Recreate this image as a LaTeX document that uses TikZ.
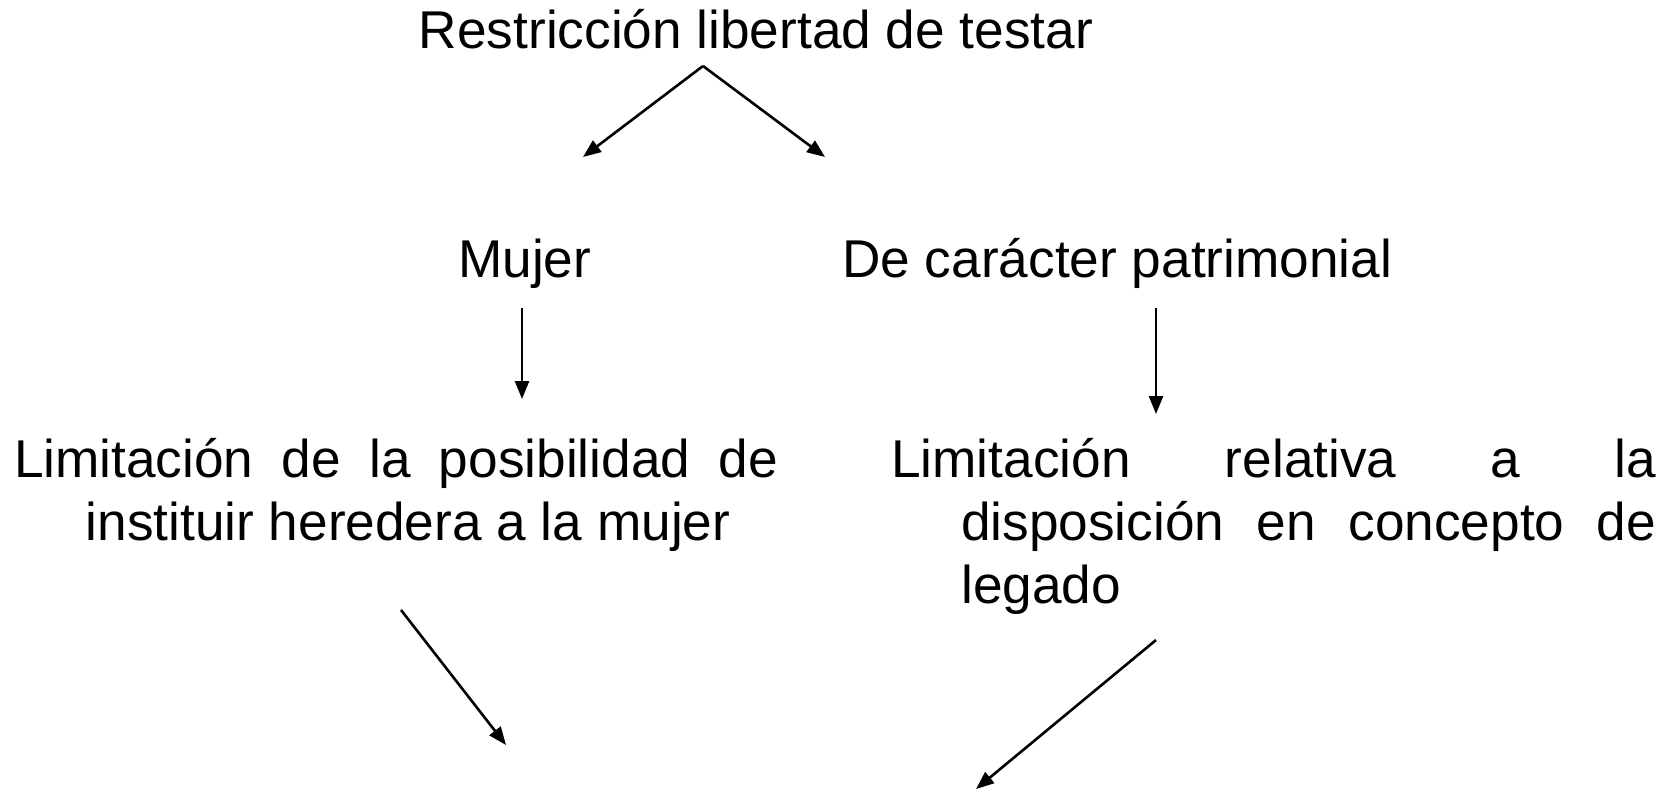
\documentclass[tikz,border=0pt]{standalone}
\usepackage{fontspec}
\setmainfont{Liberation Sans}
\usetikzlibrary{arrows.meta}

\begin{document}
\begin{tikzpicture}[x=1pt,y=-1pt,
	txt/.style={font=\fontsize{53.2}{63}\selectfont, inner sep=0pt},
	flecha/.style={-{Triangle[length=18pt,width=14pt]}, line width=2.6pt}]
	\useasboundingbox (0,0) rectangle (1677,793);
	% textos
	\node[txt,anchor=base] (raiz) at (756,48) {Restricción libertad de testar};
	\node[txt,anchor=base west] (mujer) at (458,277) {Mujer};
	\node[txt,anchor=base west] (patr) at (842,277) {De carácter patrimonial};
	\node[txt,anchor=base,align=center] (limA) at (396,540)
		{\makebox[764pt][s]{Limitación de la posibilidad de}\\\hspace*{24pt}instituir heredera a la mujer};
	\node[txt,anchor=base west,align=left] (limB) at (891,603)
		{\makebox[765pt][s]{Limitación relativa a la}\\
		\hspace*{70pt}\makebox[695pt][s]{disposición en concepto de}\\
		\hspace*{70pt}legado};
	% puntos de las flechas
	\coordinate (vert) at (703,66);
	\coordinate (finMujer) at (583,157);
	\coordinate (finPatr) at (825,157);
	\coordinate (iniA) at (522,308);
	\coordinate (finA) at (522,399);
	\coordinate (iniB) at (1156,308);
	\coordinate (finB) at (1156,414);
	\coordinate (bajaA) at (401,610);
	\coordinate (puntaA) at (506,745);
	\coordinate (bajaB) at (1156,640);
	\coordinate (puntaB) at (976,789);
	% flechas
	\draw[flecha] (vert) -- (finMujer);
	\draw[flecha] (vert) -- (finPatr);
	\draw[flecha] (iniA) -- (finA);
	\draw[flecha] (iniB) -- (finB);
	\draw[flecha] (bajaA) -- (puntaA);
	\draw[flecha] (bajaB) -- (puntaB);
\end{tikzpicture}
\end{document}
